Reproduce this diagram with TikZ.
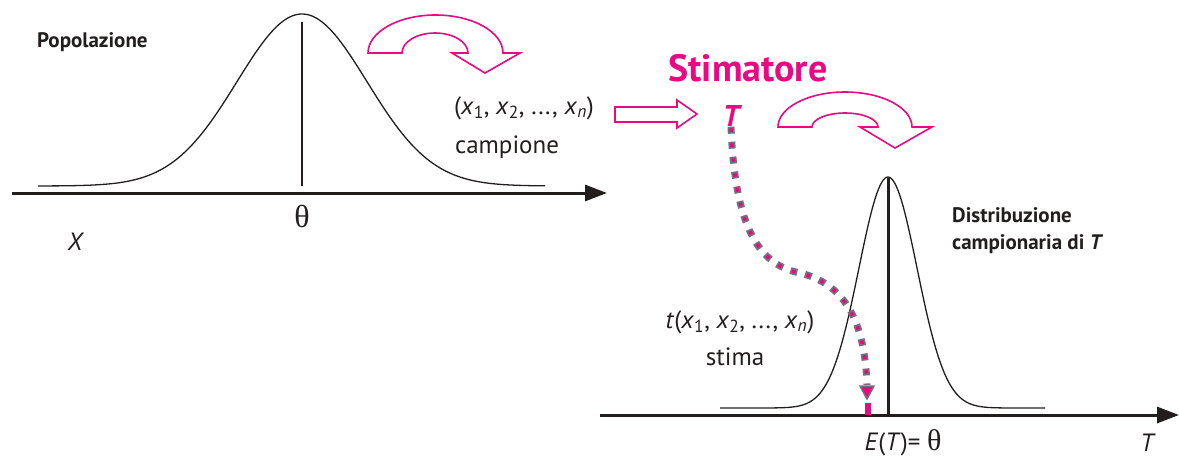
\documentclass[tikz,border=0pt]{standalone}
\usepackage{fontspec}
\setmainfont{PT Sans}
\newfontfamily\symf{Liberation Serif}
\usetikzlibrary{arrows.meta}
\definecolor{pinkm}{RGB}{232,10,130}
\definecolor{dotgray}{RGB}{120,110,125}
\definecolor{ink}{RGB}{35,30,30}
\newcommand\sx[1]{\textit{x}\textsubscript{#1}}
\begin{document}
\begin{tikzpicture}[x=1pt,y=-1pt,
  lbl/.style={font=\fontsize{25}{29}\selectfont, text=ink, inner sep=0pt},
  boldlbl/.style={font=\fontsize{21}{27}\selectfont\bfseries, text=ink, inner sep=0pt},
  axis/.style={line width=3pt, draw=ink, -{Triangle[length=22pt,width=16pt]}},
  curve/.style={line width=1.3pt, draw=ink},
  pinkshape/.style={draw=pinkm, line width=1.6pt, line join=miter, fill=white},
  dotsback/.style={draw=dotgray, line width=7pt, dash pattern=on 7pt off 8pt},
  dotsfront/.style={draw=pinkm, line width=3.5pt, dash pattern=on 3.5pt off 11.5pt, dash phase=-1.75pt}]
\useasboundingbox (0,0) rectangle (1179,459);

% ---- left: population
\coordinate (la0) at (12,193);
\coordinate (la1) at (607,193);
\draw[axis] (la0) -- (la1);
\draw[curve] plot[domain=38:545, samples=160] (\x, {186 - 172*exp(-(((\x-302)/65)^2)/2)});
\coordinate (lp0) at (302,22);
\coordinate (lp1) at (302,186);
\draw[line width=1.2pt, draw=ink] (lp0) -- (lp1);
\node[boldlbl, anchor=west] (pop) at (37,42) {Popolazione};
\node[lbl, font=\fontsize{32}{36}\selectfont\symf] (th1) at (302,216) {θ};
\node[lbl, font=\fontsize{25}{28}\selectfont\itshape] (X) at (75,242) {X};

% ---- curved arrow 1
\draw[pinkshape] (368,53) arc[start angle=180, end angle=0, x radius=67.5pt, y radius=38pt]
  -- (520,53) -- (485,73) -- (452,53) -- (468,53)
  arc[start angle=0, end angle=180, x radius=33pt, y radius=20pt] -- cycle;

% ---- sample
\node[lbl] (samp) at (524,108) {(\sx{1}, \sx{2}, ..., \sx{\textit{n}})};
\node[lbl] (camp) at (507,147) {campione};

% ---- hollow arrow
\draw[pinkshape] (615,107) -- (677,107) -- (677,100) -- (697,114) -- (677,128) -- (677,122) -- (615,122) -- cycle;

% ---- stimatore
\node[inner sep=0pt, text=pinkm, font=\fontsize{38}{42}\selectfont\bfseries] (stim) at (748,68) {Stimatore};
\node[inner sep=0pt, text=pinkm, font=\fontsize{30}{34}\selectfont\bfseries\itshape] (T) at (731,116) {T};

% ---- curved arrow 2
\draw[pinkshape] (778,127) arc[start angle=180, end angle=0, x radius=67pt, y radius=35pt]
  -- (932,127) -- (895,148) -- (860,127) -- (878,127)
  arc[start angle=0, end angle=180, x radius=33pt, y radius=14pt] -- cycle;

% ---- right: sampling distribution
\coordinate (ra0) at (600,415);
\coordinate (ra1) at (1179,415);
\draw[axis] (ra0) -- (ra1);
\draw[curve] plot[domain=720:1045, samples=200] (\x, {408 - 231*exp(-(((\x-888)/29)^2)/2)});
\coordinate (rp0) at (888,178);
\coordinate (rp1) at (888,415);
\draw[line width=3pt, draw=ink] (rp0) -- (rp1);

\node[boldlbl, anchor=west, align=left] (distr) at (952,231)
  {Distribuzione\\campionaria di \textit{T}};

\node[lbl] (tx) at (740,322) {\textit{t}(\sx{1}, \sx{2}, ..., \sx{\textit{n}})};
\node[lbl] (stima) at (735,357) {stima};

\node[lbl] (ET) at (903,443) {\textit{E}(\textit{T})= {\symf\fontsize{30}{34}\selectfont θ}};
\node[lbl, font=\fontsize{25}{28}\selectfont\itshape] (Tax) at (1147,443) {T};

% ---- dotted estimate path
\coordinate (dend) at (867,385);
\draw[dotsback] (T.south) .. controls (735,230) and (760,265) .. (800,273)
   .. controls (850,285) and (865,330) .. (dend);
\draw[dotsfront] (T.south) .. controls (735,230) and (760,265) .. (800,273)
   .. controls (850,285) and (865,330) .. (dend);
\fill[pinkm, draw=dotgray, line width=1.5pt] (860,386) -- (874,386) -- (867,399) -- cycle;
\fill[pinkm] (865,403) rectangle (871,415);
\end{tikzpicture}
\end{document}
